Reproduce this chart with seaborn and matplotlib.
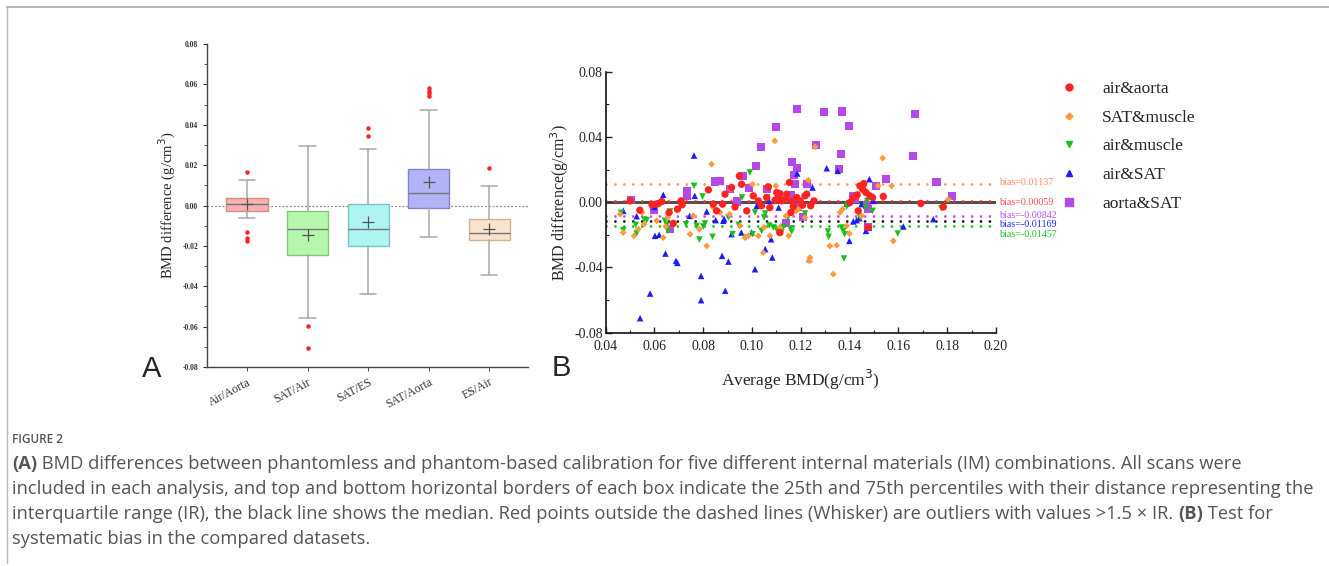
import numpy as np
import pandas as pd
import matplotlib
matplotlib.use("Agg")
import matplotlib.pyplot as plt
import seaborn as sns
from matplotlib.lines import Line2D
from matplotlib.ticker import MultipleLocator, FormatStrFormatter

# ---------------- panel A : box summaries ----------------
box_labels = ["Air/Aorta", "SAT/Air", "SAT/ES", "SAT/Aorta", "ES/Air"]
box_q1 = [-0.0025, -0.0245, -0.0200, -0.0010, -0.0173]
box_med = [0.0005, -0.0116, -0.0116, 0.0064, -0.0137]
box_q3 = [0.0038, -0.0028, 0.0005, 0.0181, -0.0066]
box_mean = [0.0005, -0.0147, -0.0084, 0.0114, -0.0117]
box_wlo = [-0.0064, -0.0555, -0.0436, -0.0158, -0.0342]
box_whi = [0.0124, 0.0295, 0.0279, 0.0472, 0.0097]
box_fliers = [
    [0.0165, -0.0133, -0.0160, -0.0175],
    [-0.0595, -0.0705],
    [0.0385, 0.0345],
    [0.0580, 0.0565, 0.0555, 0.0540],
    [0.0185],
]
box_fill = ["#f7b3b3", "#b6f7ae", "#aef5f1", "#b3b3f7", "#f8e3cb"]
box_edge = ["#d88a8a", "#86c47e", "#7cc4c0", "#8484c8", "#cdb395"]

# ---------------- panel B : scatter series ----------------
red_x = [0.050, 0.054, 0.059, 0.0606, 0.0616, 0.063, 0.066, 0.0677, 0.0694, 0.0709,
         0.0713, 0.0821, 0.0841, 0.0855, 0.0879, 0.0889, 0.0916, 0.093, 0.0948, 0.0957,
         0.0978, 0.1005, 0.1026, 0.1039, 0.106, 0.1067, 0.1073, 0.1094, 0.1101, 0.1108,
         0.1114, 0.1121, 0.1135, 0.1142, 0.1153, 0.1159, 0.1162, 0.1169, 0.1183, 0.1196,
         0.1207, 0.1217, 0.1224, 0.124, 0.1254, 0.1114, 0.1401, 0.1415, 0.1431, 0.1435,
         0.1442, 0.1453, 0.1458, 0.1467, 0.1476, 0.1483, 0.1494, 0.1538, 0.1692, 0.1784]
red_y = [0.0008, -0.0049, -0.0016, -0.0012, -0.0008, 0.0004, -0.0063, -0.0130, -0.0043, 0.0008,
         -0.0016, 0.0076, -0.0012, -0.0053, -0.0012, 0.0049, 0.0090, -0.0029, 0.0161, 0.0110,
         -0.0053, 0.0039, 0.0008, -0.0022, 0.0029, 0.0094, -0.0033, 0.0012, 0.0059, 0.0029,
         0.0053, 0.0008, 0.0018, 0.0049, 0.0121, -0.0063, 0.0008, -0.0027, 0.0029, 0.0008,
         -0.0018, 0.0039, 0.0049, -0.0022, 0.0008, -0.0186, -0.0002, 0.0029, 0.0045, -0.0053,
         0.0100, 0.0080, 0.0114, 0.0059, -0.0155, 0.0039, 0.0029, 0.0035, -0.0008, -0.0029]

orange_x = [0.0459, 0.0472, 0.0516, 0.0534, 0.0549, 0.0557, 0.0609, 0.0636, 0.0646, 0.0654,
            0.0657, 0.0746, 0.0759, 0.0784, 0.0814, 0.0834, 0.0841, 0.0869, 0.0907, 0.0912,
            0.0951, 0.0971, 0.0985, 0.1002, 0.1026, 0.1046, 0.1049, 0.1073, 0.1093, 0.1098,
            0.1114, 0.1139, 0.115, 0.118, 0.119, 0.1217, 0.1231, 0.1235, 0.1237, 0.1259,
            0.1319, 0.1333, 0.1347, 0.136, 0.1371, 0.1388, 0.1399, 0.1449, 0.1517, 0.1535,
            0.1572, 0.1579, 0.1804, 0.1784]
orange_y = [-0.0074, -0.0186, -0.0206, -0.0165, -0.0063, -0.0135, -0.0114, -0.0217, -0.0149, -0.0094,
            -0.0063, -0.0196, -0.0084, -0.0165, -0.0268, 0.0233, -0.0033, -0.0063, -0.0074, 0.0080,
            -0.0145, -0.0217, -0.0206, 0.0110, -0.0206, -0.0309, -0.0155, -0.0206, 0.0376, 0.0100,
            -0.0155, -0.0084, -0.0206, -0.0053, -0.0043, -0.0094, 0.0135, -0.0360, -0.0339, 0.0339,
            -0.0268, -0.0441, -0.0264, -0.0063, -0.0043, -0.0145, -0.0192, -0.0084, 0.0100, 0.0270,
            0.0100, -0.0237, 0.0018, -0.0033]

green_x = [0.0463, 0.0472, 0.0523, 0.0527, 0.0558, 0.0568, 0.0643, 0.065, 0.0655, 0.0664,
           0.0729, 0.0762, 0.0773, 0.0784, 0.0797, 0.080, 0.0807, 0.0838, 0.0903, 0.092,
           0.0945, 0.0959, 0.0975, 0.0991, 0.1002, 0.1012, 0.1039, 0.1049, 0.1054, 0.1063,
           0.1071, 0.1087, 0.1103, 0.112, 0.1128, 0.1147, 0.1158, 0.1162, 0.1217, 0.1311,
           0.1314, 0.1367, 0.1374, 0.138, 0.1377, 0.1388, 0.1391, 0.1443, 0.1466, 0.1472,
           0.1494, 0.1597, 0.1776]
green_y = [-0.0065, -0.0172, -0.0139, -0.0192, -0.0106, -0.0110, -0.0114, -0.0139, -0.0176, -0.0057,
           -0.0135, 0.0100, -0.0145, -0.0229, 0.0035, -0.0149, -0.0131, -0.0212, -0.0094, -0.0196,
           -0.0139, 0.0029, -0.0217, 0.0182, -0.0196, -0.0063, -0.0176, -0.0094, -0.0069, 0.0029,
           -0.0143, -0.0155, -0.0176, -0.0186, -0.0151, -0.0094, -0.0161, -0.0180, -0.0069, -0.0180,
           -0.0212, -0.0155, -0.0176, -0.0196, -0.0345, -0.0027, -0.0016, -0.0094, -0.0033, 0.0008,
           -0.0053, -0.0192, -0.0037]

blue_x = [0.0472, 0.0527, 0.0541, 0.0582, 0.0599, 0.0602, 0.0619, 0.0636, 0.0645, 0.0688,
          0.0694, 0.0744, 0.0762, 0.0765, 0.0791, 0.0791, 0.0814, 0.0851, 0.0877, 0.0882,
          0.0886, 0.089, 0.0903, 0.0916, 0.0956, 0.0998, 0.1012, 0.1019, 0.1054, 0.1069,
          0.1083, 0.1078, 0.1109, 0.1113, 0.118, 0.1185, 0.1235, 0.1248, 0.1306, 0.1351,
          0.1388, 0.1399, 0.1415, 0.1429, 0.144, 0.1449, 0.1459, 0.1467, 0.1477, 0.1481,
          0.1497, 0.162, 0.1743]
blue_y = [-0.0053, -0.0086, -0.0711, -0.0560, -0.0029, -0.0206, -0.0200, 0.0045, -0.0315, -0.0360,
          -0.0372, -0.0084, 0.0286, 0.0039, -0.0452, -0.0601, -0.0057, -0.0110, -0.0329, -0.0114,
          -0.0104, -0.0543, -0.0364, -0.0196, -0.0186, -0.0186, -0.0411, -0.0022, -0.0288, 0.0008,
          -0.0339, -0.0227, -0.0033, -0.0176, -0.0033, 0.0176, -0.0349, 0.0090, 0.0208, 0.0192,
          -0.0008, -0.0237, -0.0118, -0.0110, -0.0098, -0.0012, 0.0090, -0.0176, -0.0155, 0.0141,
          0.0008, -0.0149, -0.0104]

purple_x = [0.0504, 0.0598, 0.0664, 0.0735, 0.0732, 0.0848, 0.0869, 0.091, 0.094, 0.0961,
            0.0989, 0.1016, 0.1035, 0.106, 0.1097, 0.1138, 0.1158, 0.1165, 0.1172, 0.1176,
            0.1185, 0.1185, 0.119, 0.1207, 0.1224, 0.1262, 0.1295, 0.1356, 0.1364, 0.137,
            0.1399, 0.1415, 0.1422, 0.147, 0.1477, 0.1477, 0.1508, 0.1549, 0.1661, 0.1668,
            0.1756, 0.1818]
purple_y = [0.0012, -0.0045, -0.0165, 0.0069, 0.0039, 0.0127, 0.0131, 0.0083, 0.0004, 0.0161,
            0.0086, 0.0221, 0.0339, 0.0080, 0.0462, -0.0125, 0.0045, 0.0247, 0.0168, 0.0110,
            0.0212, 0.0574, -0.0029, -0.0090, 0.0110, 0.0351, 0.0554, 0.0202, 0.0294, 0.0556,
            0.0468, 0.0039, 0.0018, -0.0016, -0.0043, -0.0151, 0.0100, 0.0141, 0.0284, 0.0539,
            0.0125, 0.0039]

series_names = ["air&aorta", "SAT&muscle", "air&muscle", "air&SAT", "aorta&SAT"]
bias_values = [0.00059, 0.01137, -0.01457, -0.01169, -0.00842]
bias_label_y = [0.0001, 0.0118, -0.0200, -0.0134, -0.0084]

# ---------------- style ----------------
sns.set_theme(style="ticks")
plt.rcParams["font.family"] = ["Liberation Serif", "DejaVu Serif"]
plt.rcParams["axes.unicode_minus"] = False

W, H = 1329, 566
fig = plt.figure(figsize=(W / 100, H / 100), dpi=100)
fig.patch.set_facecolor("white")

def fx(px):
    return px / W

def fy(py):
    return 1 - py / H

# ---------------- panel A ----------------
axA = fig.add_axes([fx(207), fy(367), fx(528 - 207), (367 - 44) / H])
stats = []
for i, lab in enumerate(box_labels):
    stats.append(dict(label=lab, q1=box_q1[i], med=box_med[i], q3=box_q3[i],
                      mean=box_mean[i], whislo=box_wlo[i], whishi=box_whi[i],
                      fliers=box_fliers[i]))
positions = np.arange(1, len(box_labels) + 1)
bp = axA.bxp(stats, positions=positions, widths=0.68, patch_artist=True, showmeans=True,
             meanprops=dict(marker="+", markeredgecolor="#555555", markersize=9, markeredgewidth=0.9),
             medianprops=dict(color="#777777", lw=1.0),
             whiskerprops=dict(color="#a8a8a8", lw=1.1),
             capprops=dict(color="#a8a8a8", lw=1.1),
             capwidths=0.27,
             flierprops=dict(marker="o", markersize=2.2, markerfacecolor="#ff2020",
                             markeredgecolor="#ff2020"))
for patch, fc, ec in zip(bp["boxes"], box_fill, box_edge):
    patch.set_facecolor(fc)
    patch.set_edgecolor(ec)
    patch.set_linewidth(1.0)
axA.axhline(0, color="#888888", lw=0.9, ls=(0, (1.5, 1.5)), zorder=0.5)
axA.set_xlim(0.34, 5.64)
axA.set_ylim(-0.08, 0.08)
axA.yaxis.set_major_locator(MultipleLocator(0.02))
axA.yaxis.set_minor_locator(MultipleLocator(0.01))
axA.yaxis.set_major_formatter(FormatStrFormatter("%.2f"))
axA.tick_params(axis="y", which="major", labelsize=5.5, length=3, width=0.8, colors="#333333")
axA.tick_params(axis="y", which="minor", length=2, width=0.6, color="#333333")
axA.tick_params(axis="x", length=3, width=0.6, labelsize=8.5, colors="#333333")
for lbl in axA.get_yticklabels():
    lbl.set_fontweight("bold")
axA.set_xticks(positions)
axA.set_xticklabels(box_labels, rotation=28, ha="right", rotation_mode="anchor")
axA.set_ylabel("BMD difference (g/cm$^3$)", fontsize=10.5, labelpad=3)
sns.despine(ax=axA)
for sp in ["left", "bottom"]:
    axA.spines[sp].set_color("#444444")
    axA.spines[sp].set_linewidth(1.0)

# ---------------- panel B ----------------
axB = fig.add_axes([fx(605.7), fy(332.7), fx(996 - 605.7), (332.7 - 71.7) / H])
xs = [red_x, orange_x, green_x, blue_x, purple_x]
ys = [red_y, orange_y, green_y, blue_y, purple_y]
colors = ["#ff2222", "#ff9a3c", "#18c018", "#1c1cff", "#b448e8"]
markers = ["o", "D", "v", "^", "s"]
sizes = [28, 12, 22, 22, 34]
zorders = [6, 5, 4, 3, 2]
line_colors = ["#ff2222", "#ff9a5c", "#18c018", "#111111", "#cc44ff"]
text_colors = ["#ff4a4a", "#ff8c55", "#22bb22", "#2222ff", "#c050ee"]

axB.axhline(0, color="#333333", lw=2.2, alpha=0.85, zorder=1)
for bv, lc in zip(bias_values, line_colors):
    axB.axhline(bv, color=lc, lw=2.0, ls=(0, (0.01, 3.2)), dash_capstyle="round", zorder=1.5)

for i, name in enumerate(series_names):
    df = pd.DataFrame({"avg": xs[i], "diff": ys[i]})
    sns.scatterplot(data=df, x="avg", y="diff", ax=axB, color=colors[i], marker=markers[i],
                    s=sizes[i], edgecolor="none", linewidth=0, zorder=zorders[i], label=name,
                    legend=False)

for bv, ly, tc in zip(bias_values, bias_label_y, text_colors):
    axB.text(0.2012, ly, f"bias={bv:.5f}", color=tc, fontsize=7.2, va="center", ha="left",
             clip_on=False)

axB.set_xlim(0.04, 0.20)
axB.set_ylim(-0.08, 0.08)
axB.xaxis.set_major_locator(MultipleLocator(0.02))
axB.xaxis.set_minor_locator(MultipleLocator(0.01))
axB.yaxis.set_major_locator(MultipleLocator(0.04))
axB.yaxis.set_minor_locator(MultipleLocator(0.02))
axB.xaxis.set_major_formatter(FormatStrFormatter("%.2f"))
axB.yaxis.set_major_formatter(FormatStrFormatter("%.2f"))
axB.tick_params(which="major", direction="in", length=4, width=1.0, labelsize=10, colors="#222222")
axB.tick_params(axis="x", which="major", pad=5)
axB.tick_params(axis="y", which="major", pad=2)
axB.tick_params(which="minor", direction="in", length=2.5, width=0.8, color="#222222")
axB.set_xlabel("Average BMD(g/cm$^3$)", fontsize=12.5, labelpad=11)
axB.set_ylabel("BMD difference(g/cm$^3$)", fontsize=11.5, labelpad=2)
sns.despine(ax=axB)
for sp in ["left", "bottom"]:
    axB.spines[sp].set_color("#111111")
    axB.spines[sp].set_linewidth(1.2)

handles = [Line2D([], [], ls="none", marker=m, color=c, markersize=ms)
           for m, c, ms in zip(markers, colors, [5, 3.5, 5, 5, 5.5])]
fig.legend(handles, series_names, loc="upper left", bbox_to_anchor=(fx(1052), fy(74)),
           frameon=False, fontsize=12.5, labelspacing=0.72, handlelength=1.2,
           handletextpad=1.3, borderaxespad=0)

# panel letters
fig.text(fx(142), fy(377), "A", fontsize=21, family="Liberation Sans", va="baseline")
fig.text(fx(552), fy(376), "B", fontsize=21, family="Liberation Sans", va="baseline")

# ---------------- frame + caption ----------------
fig.add_artist(Line2D([fx(7), 1], [fy(7), fy(7)], transform=fig.transFigure, color="#b8b8b8", lw=1.4))
fig.add_artist(Line2D([fx(7), fx(7)], [fy(7), fy(563)], transform=fig.transFigure, color="#b8b8b8", lw=1.0))

cap = fig.add_axes([0, 0, 1, 1])
cap.axis("off")
cap.set_zorder(-1)
cap_font = "Open Sans"
cap_color = "#555555"
cap.text(fx(12), fy(443), "FIGURE 2", fontsize=8.5, family=cap_font, color=cap_color,
         weight="semibold", transform=fig.transFigure, va="baseline")

cap_lines = [
    [("(A)", True), (" BMD differences between phantomless and phantom-based calibration for five different internal materials (IM) combinations. All scans were", False)],
    [("included in each analysis, and top and bottom horizontal borders of each box indicate the 25th and 75th percentiles with their distance representing the", False)],
    [("interquartile range (IR), the black line shows the median. Red points outside the dashed lines (Whisker) are outliers with values >1.5 \u00d7 IR. ", False), ("(B)", True), (" Test for", False)],
    [("systematic bias in the compared datasets.", False)],
]
cap_base = [469, 494, 519, 544]
for parts, yb in zip(cap_lines, cap_base):
    prev = None
    for txt, bold in parts:
        kw = dict(fontsize=13.2, family=cap_font, color=cap_color,
                  weight="bold" if bold else "normal", va="bottom", ha="left")
        if prev is None:
            prev = cap.text(fx(12), fy(yb + 4), txt, transform=fig.transFigure, **kw)
        else:
            prev = cap.annotate(txt, xy=(1, 0), xycoords=prev, **kw)

fig.savefig("out.png", dpi=100)
